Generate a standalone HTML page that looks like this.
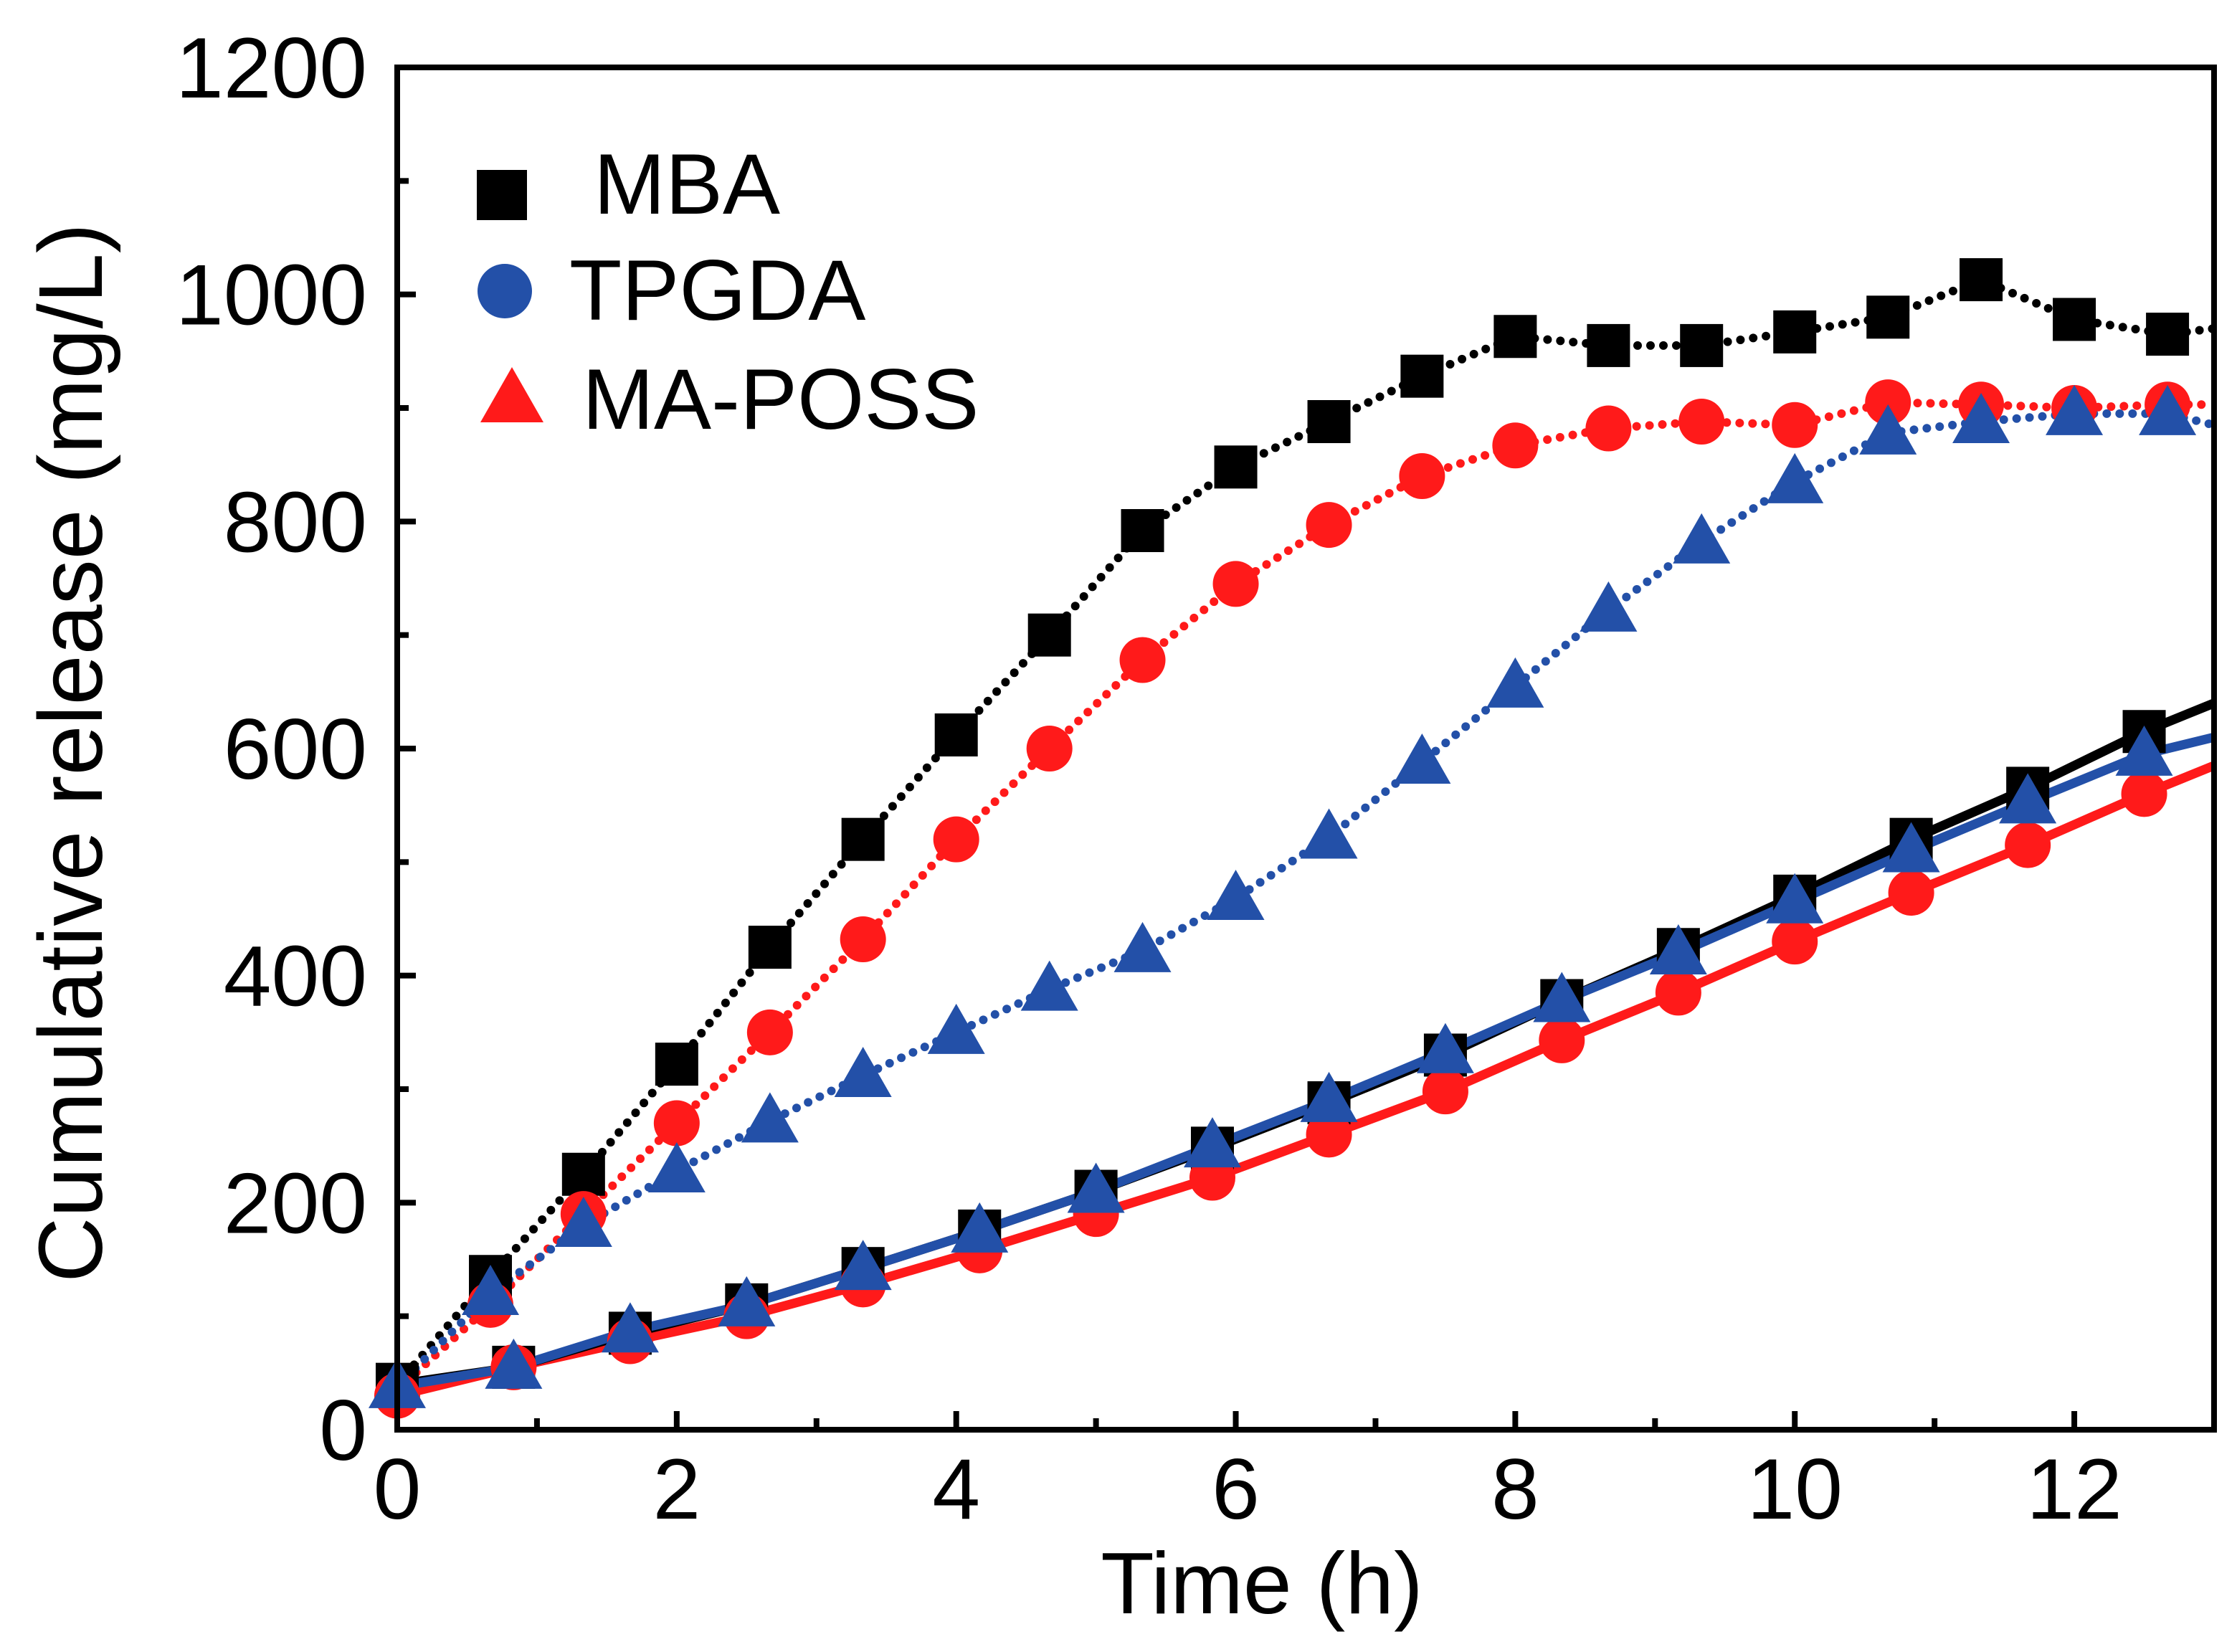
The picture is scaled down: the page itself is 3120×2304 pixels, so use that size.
<!DOCTYPE html>
<html><head><meta charset="utf-8"><style>html,body{margin:0;padding:0;background:#fff}svg{display:block}text{font-family:"Liberation Sans",Arial,sans-serif}</style></head>
<body>
<svg id="chart" width="3120" height="2304" viewBox="0 0 3120 2304" xmlns="http://www.w3.org/2000/svg"></svg>
<script>
const xTicks=[0,2,4,6,8,10,12];
const yTicks=[0,200,400,600,800,1000,1200];
const tDot=[0,0.667,1.333,2,2.667,3.333,4,4.667,5.333,6,6.667,7.333,8,8.667,9.333,10,10.667,11.333,12,12.667,13];
const mbaDot=[40,135,225,322,425,520,612,700,792,848,888,928,963,955,955,967,980,1013,978,965,970];
const redDot=[35,110,190,270,350,432,520,600,678,745,797,840,867,882,888,885,905,903,900,903,903];
const blueDot=[38,120,180,228,272,312,350,388,422,468,522,588,655,722,782,835,878,888,895,895,885];
const tSol=[0,0.833,1.667,2.5,3.333,4.167,5,5.833,6.667,7.5,8.333,9.167,10,10.833,11.667,12.5,13];
const mbaSol=[40,55,85,110,142,175,210,248,288,330,378,423,470,520,565,615,640];
const blueSol=[38,55,87,110,142,175,210,250,290,333,378,420,465,510,553,595,610];
const redSol=[30,55,78,100,128,158,190,222,260,298,343,385,430,473,515,560,585];

const L=554,R=3088,T=94,B=1994,XMAX=13,YMAX=1200;
const sx=v=>L+(R-L)*v/XMAX, sy=v=>B-(B-T)*v/YMAX;
const svg=document.getElementById('chart');const NS='http://www.w3.org/2000/svg';
function mk(tag,attrs,parent){const e=document.createElementNS(NS,tag);for(const k in attrs)e.setAttribute(k,attrs[k]);(parent||svg).appendChild(e);return e;}
const BLK='#000',RED='#ff1a1a',BLU='#2350a8';

for(let v=0;v<=13;v++){const major=v%2===0;const t=mk('line',{x1:sx(v),x2:sx(v),y1:B,y2:B-(major?26:16),stroke:'#000','stroke-width':8});

}
for(let v=0;v<=1200;v+=100){const major=v%200===0;const t=mk('line',{x1:L,x2:L+(major?26:16),y1:sy(v),y2:sy(v),stroke:'#000','stroke-width':8});

}
xTicks.forEach(v=>{const t=mk('text',{x:sx(v),y:2118,'font-size':120,'text-anchor':'middle'});t.textContent=v;

});
yTicks.forEach(v=>{const t=mk('text',{x:512,y:sy(v)+42,'font-size':120,'text-anchor':'end'});t.textContent=v;

});

function line(ts,vs,color,dotted,name){const p=ts.map((t,i)=>sx(t)+','+sy(vs[i])).join(' ');
const a=dotted?{points:p,fill:'none',stroke:color,'stroke-width':12,'stroke-linecap':'round','stroke-dasharray':'0 18','stroke-linejoin':'round'}:{points:p,fill:'none',stroke:color,'stroke-width':13,'stroke-linejoin':'round'};
const e=mk('polyline',a);

}
function sq(x,y,c,g,s){s=s||60;return mk('rect',{x:x-s/2,y:y-s/2,width:s,height:s,fill:c},g);}
function ci(x,y,c,g,s){return mk('circle',{cx:x,cy:y,r:(s||64)/2,fill:c},g);}
function tri(x,y,c,g,s){s=s||1;return mk('polygon',{points:`${x},${y-40*s} ${x-40*s},${y+30*s} ${x+40*s},${y+30*s}`,fill:c},g);}
function markers(ts,vs,fn,c,name){const g=mk('g',{});


ts.forEach((t,i)=>{if(t>12.8)return;fn(sx(t),sy(vs[i]),c,g);});}

line(tSol,redSol,RED,false,'mapos-solid-line');
line(tSol,mbaSol,BLK,false,'mba-solid-line');
line(tSol,blueSol,BLU,false,'tpgda-solid-line');
line(tDot,mbaDot,BLK,true,'mba-dotted-line');
line(tDot,redDot,RED,true,'red-dotted-line');
line(tDot,blueDot,BLU,true,'blue-dotted-line');
markers(tSol,mbaSol,sq,BLK,'mba-solid-markers');
markers(tSol,redSol,ci,RED,'red-solid-markers');
markers(tSol,blueSol,tri,BLU,'blue-solid-markers');
markers(tDot.slice(1),mbaDot.slice(1),sq,BLK,'mba-dotted-markers');
markers(tDot.slice(1),redDot.slice(1),ci,RED,'red-dotted-markers');
markers(tDot.slice(1),blueDot.slice(1),tri,BLU,'blue-dotted-markers');

const fr=mk('rect',{x:L,y:T,width:R-L,height:B-T,fill:'none',stroke:'#000','stroke-width':8});



const lg=mk('g',{});


sq(700,272,BLK,lg,70);ci(704,406,BLU,lg,76);tri(714,556,RED,lg,1.1);
[['MBA',828,298],['TPGDA',794,446],['MA-POSS',812,598]].forEach(a=>{const t=mk('text',{x:a[1],y:a[2],'font-size':120},lg);t.textContent=a[0];

});

const xt=mk('text',{x:1760,y:2250,'font-size':122,'text-anchor':'middle'});xt.textContent='Time (h)';


const yt=mk('text',{x:0,y:0,'font-size':126,'text-anchor':'middle',transform:'translate(142,1050) rotate(-90)'});yt.textContent='Cumulative release (mg/L)';


</script>
</body></html>
